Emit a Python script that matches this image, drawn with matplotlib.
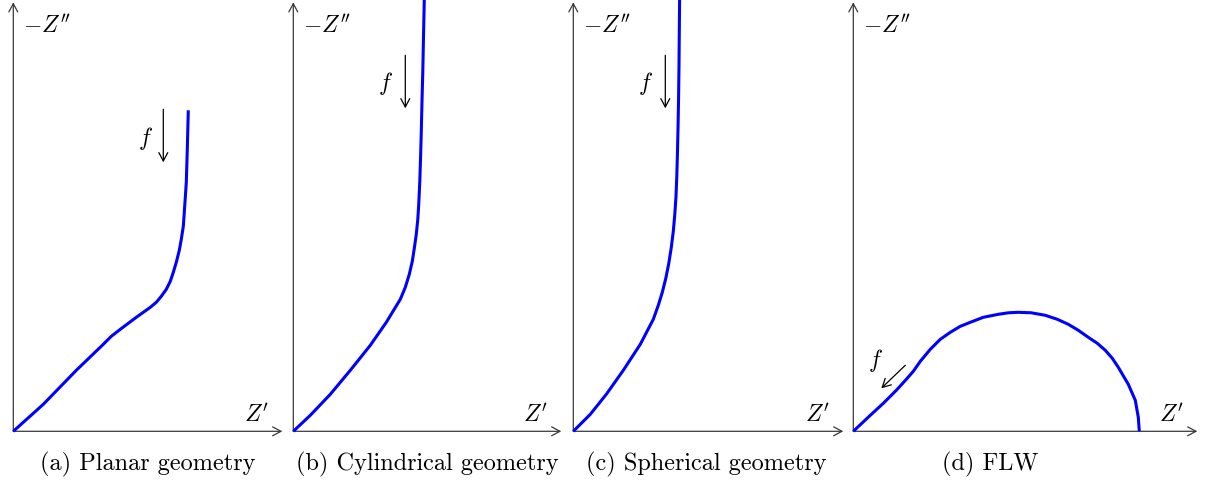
import numpy as np
import matplotlib
matplotlib.use("Agg")
import matplotlib.pyplot as plt

plt.rcParams.update({
    "mathtext.fontset": "cm",
    "font.family": "cmr10",
})

# ---- Nyquist sketches: (Z', -Z'') points, one set per geometry ----
planar_re = [0, 30, 63, 90, 98, 107, 115, 123, 130, 137, 143, 148, 153, 157,
             160, 163, 166, 168, 170, 171, 172, 173, 174, 175]
planar_im = [0, 27, 61, 87, 95, 102, 108, 114, 119, 124, 129, 135, 142, 150,
             159, 169, 181, 192, 205, 219, 234, 249, 282, 321]

cyl_re = [0, 17, 37, 57, 77, 93, 107, 112, 116, 119, 121, 123, 124.5, 125.5,
          126.5, 127.3, 128, 128.7, 129.5, 130.2, 131]
cyl_im = [0, 16, 37, 61, 86, 109, 132, 144, 157, 170, 183, 197, 212, 228,
          250, 275, 300, 330, 360, 395, 432]

sph_re = [0, 17, 33, 50, 67, 80, 85, 89, 92.5, 95.5, 98, 100, 101.5, 102.7,
          103.5, 104.2, 104.8, 105.3, 105.7, 106, 106.3]
sph_im = [0, 17, 37, 61, 87, 112, 126, 139, 153, 168, 184, 200, 217, 235,
          255, 280, 307, 335, 365, 400, 432]

flw_re = [0, 17, 30, 43, 53, 60, 67, 77, 87, 97, 107, 117, 130, 145, 155, 165,
          178, 192, 204, 215, 225, 235, 244, 252, 259, 265, 275, 282, 285, 286]
flw_im = [0, 16, 28, 41, 52, 60, 70, 82, 92, 99, 105, 109, 114, 117, 118.5,
          119, 118.5, 116, 112, 107, 101, 94, 88, 81, 73, 64, 47, 31, 14, 0]

captions = ["(a) Planar geometry", "(b) Cylindrical geometry",
            "(c) Spherical geometry", "(d) FLW"]

W, H = 1211, 481
fig = plt.figure(figsize=(W / 100, H / 100), dpi=100)

BLUE = "#0000ff"
AX_C = "#3a3a3a"

# panel layout in pixels: origin x, length of Z' axis, caption centre
panels = [
    dict(ox=13.3, xlen=269, cap_x=134, re=planar_re, im=planar_im,
         f_arrow=((150, 322), (150, 269)), f_txt=(132, 294)),
    dict(ox=293.3, xlen=268, cap_x=134, re=cyl_re, im=cyl_im,
         f_arrow=((112, 376), (112, 323)), f_txt=(92, 349)),
    dict(ox=573.3, xlen=270, cap_x=133, re=sph_re, im=sph_im,
         f_arrow=((92, 376), (92, 323)), f_txt=(72, 349)),
    dict(ox=853.3, xlen=344, cap_x=137, re=flw_re, im=flw_im,
         f_arrow=((52, 66), (28, 43)), f_txt=(22, 72)),
]
oy = 481 - 432.3   # origin height from the bottom edge
ylen = 429

for p, cap in zip(panels, captions):
    x0, x1 = -14, p["xlen"] + 14
    y0, y1 = -46, ylen + 6
    ax = fig.add_axes([(p["ox"] + x0) / W, (oy + y0) / H,
                       (x1 - x0) / W, (y1 - y0) / H])
    ax.set_xlim(x0, x1)
    ax.set_ylim(y0, y1)
    ax.axis("off")

    # axes with arrow heads
    ap = dict(arrowstyle="->,head_length=0.6,head_width=0.32", color=AX_C,
              lw=0.9, shrinkA=0, shrinkB=0, mutation_scale=10)
    ax.annotate("", xy=(p["xlen"], 0), xytext=(0, 0), arrowprops=ap)
    ax.annotate("", xy=(0, ylen), xytext=(0, 0), arrowprops=ap)

    ax.plot(p["re"], p["im"], color=BLUE, lw=2.2, solid_capstyle="butt",
            solid_joinstyle="round", clip_on=False, zorder=3)

    # frequency direction
    (fx0, fy0), (fx1, fy1) = p["f_arrow"]
    ax.annotate("", xy=(fx1, fy1), xytext=(fx0, fy0),
                arrowprops=dict(arrowstyle="->,head_length=0.6,head_width=0.32",
                                color="black", lw=0.9, shrinkA=0, shrinkB=0,
                                mutation_scale=10))
    ax.text(*p["f_txt"], r"$f$", fontsize=17, ha="center", va="center")

    ax.text(10, 406, r"$-Z''$", fontsize=17, ha="left", va="center")
    ax.text(p["xlen"] - 13, 17, r"$Z'$", fontsize=17, ha="right", va="center")

    ax.text(p["cap_x"], -32, cap, fontsize=17.5, ha="center", va="center")

fig.savefig("out.png", dpi=100, facecolor="white")
